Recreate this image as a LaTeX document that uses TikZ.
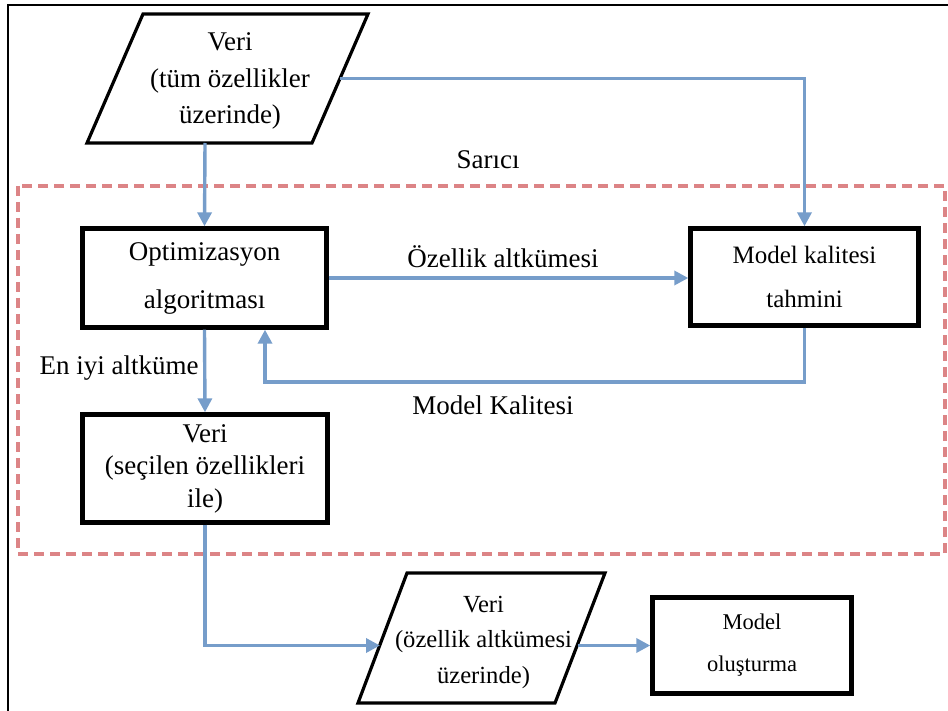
\documentclass[tikz,border=0pt]{standalone}
\usepackage{fontspec}
\setmainfont{Liberation Serif}
\usetikzlibrary{arrows.meta}
\definecolor{flow}{RGB}{118,157,202}
\definecolor{wrapc}{RGB}{220,132,134}
\begin{document}
\begin{tikzpicture}[x=1pt,y=-1pt,
  box/.style={draw=black, line width=4.4pt, inner sep=0pt, align=center},
  parashape/.style={draw=black, line width=3.2pt, line join=miter},
  ptext/.style={align=center, inner sep=0pt},
  lbl/.style={inner sep=0pt, font=\fontsize{27}{30}\selectfont},
  flowline/.style={draw=flow, line width=3.4pt, -{Triangle[length=14pt,width=14pt]}},
  wrapbox/.style={draw=wrapc, line width=3.2pt, dash pattern=on 10pt off 6pt},
]
\useasboundingbox (0,0) rectangle (948,711);
\draw[line width=2pt] (8,711) -- (8,5) -- (948,5);

% wrapper
\draw[wrapbox] (18,186) rectangle (945,554);
\node[lbl] (sar) at (488,160) {Sarıcı};

% top data parallelogram
\draw[parashape] (143,14) -- (368,14) -- (312,143) -- (87,143) -- cycle;
\node[ptext, font=\fontsize{27}{36.5}\selectfont] (p1) at (230,81) {Veri\\(tüm özellikler\\üzerinde)};
\coordinate (p1s) at (205,143);
\coordinate (p1e) at (340,78.5);

% boxes
\node[box, minimum width=244, minimum height=99, font=\fontsize{27}{48}\selectfont] (opt) at (204.5,278) {Optimizasyon\\algoritması};
\node[box, minimum width=228, minimum height=97, font=\fontsize{25}{44}\selectfont] (mk) at (804.5,277) {Model kalitesi\\tahmini};
\node[box, minimum width=245, minimum height=108, font=\fontsize{27}{32.5}\selectfont] (v2) at (205,468.5) {Veri\\(seçilen özellikleri\\ile)};
\node[box, minimum width=199, minimum height=96, font=\fontsize{22.5}{42}\selectfont] (mo) at (752,645.5) {Model\\oluşturma};

% bottom data parallelogram
\draw[parashape] (407,573) -- (605,573) -- (555,703) -- (358,703) -- cycle;
\node[ptext, font=\fontsize{24.6}{35.5}\selectfont] (p2) at (483.5,642) {Veri\\(özellik altkümesi\\üzerinde)};
\coordinate (p2w) at (380,645.5);
\coordinate (p2e) at (578,645.5);

% labels
\node[lbl] (la1) at (503,257) {Özellik altkümesi};
\node[lbl] (la2) at (493,405) {Model Kalitesi};
\node[lbl] (la3) at (119,368) {En iyi altküme};

% connectors
\coordinate (fb) at (265,382);
\draw[flowline] (p1s) -- (opt.north);
\draw[flowline] (p1e) -| (mk.north);
\draw[flowline] (opt.east) -- (opt.east -| mk.west);
\draw[flowline] (mk.south) |- (fb) -- (fb |- opt.south);
\draw[flowline] (opt.south) -- (v2.north);
\draw[flowline] (v2.south) |- (p2w);
\draw[flowline] (p2e) -- (mo.west);
\end{tikzpicture}
\end{document}
